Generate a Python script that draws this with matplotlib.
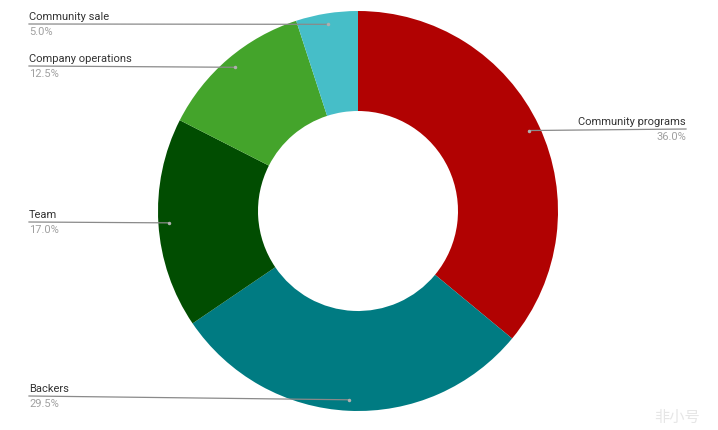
import numpy as np
import matplotlib.pyplot as plt

# Dane
labels = ['Community programs', 'Backers', 'Team', 'Company operations', 'Community sale']
values = [36.0, 29.5, 17.0, 12.5, 5.0]
colors = ['#b10202', '#007b82', '#014d01', '#44a42b', '#46bec8']

W, H = 718, 431
cx, cy, R = 358, H - 212, 200

fig = plt.figure(figsize=(W / 100, H / 100), dpi=100)
ax = fig.add_axes([0, 0, 1, 1])
ax.set_xlim(0, W)
ax.set_ylim(0, H)
ax.axis('off')

wedges, _ = ax.pie(values, colors=colors, startangle=90, counterclock=False,
                   center=(cx, cy), radius=R,
                   wedgeprops=dict(width=R * 0.5, edgecolor='none'))
ax.set_aspect('equal')
ax.set_xlim(0, W)
ax.set_ylim(0, H)

# Etykiety z liniami
# pozycje tekstu: (x, y linii, wyrownanie)
label_pos = {
    'Community programs': (686, H - 130, 'right'),
    'Backers': (29, H - 397, 'left'),
    'Team': (29, H - 223, 'left'),
    'Company operations': (29, H - 67, 'left'),
    'Community sale': (29, H - 25, 'left'),
}

total = sum(values)
start = 0.0
for lab, v in zip(labels, values):
    mid = (start + v / 2) / total * 2 * np.pi
    start += v
    px = cx + 0.945 * R * np.sin(mid)
    py = cy + 0.945 * R * np.cos(mid)
    tx, ty, ha = label_pos[lab]
    ax.plot([px, tx], [py, ty], color='#8a8a8a', lw=0.9)
    ax.plot(px, py, 'o', color='#b0b0b0', ms=2.5, mec='none')
    ax.text(tx, ty + 3, lab, ha=ha, va='bottom', fontsize=8,
            family='Roboto', color='#333333')
    ax.text(tx, ty - 2, '%.1f%%' % v, ha=ha, va='top', fontsize=8,
            family='Roboto', color='#a0a0a0')

# znak wodny
ax.text(700, 14, '非小号', ha='right', va='center', fontsize=11,
        family=['Noto Sans CJK SC', 'DejaVu Sans'], color='#e6e6e6')

plt.savefig('out.png', dpi=100)
